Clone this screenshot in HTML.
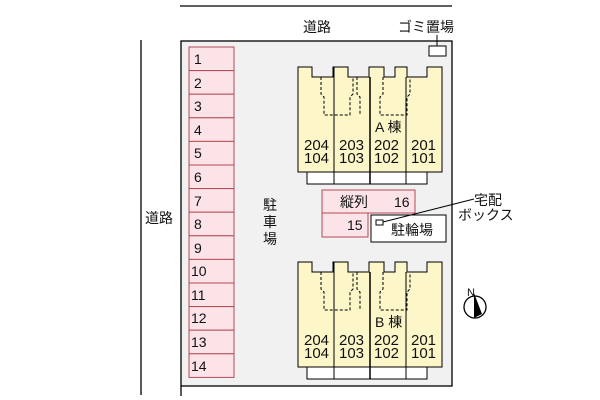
<!DOCTYPE html><html><head><meta charset="utf-8"><style>body{margin:0;background:#fff}svg{display:block}text{font-family:"Liberation Sans","Noto Sans CJK JP",sans-serif;fill:#111}</style></head><body>
<svg width="600" height="400" viewBox="0 0 600 400">
<line x1="180" y1="6" x2="452" y2="6" stroke="#000" stroke-width="1.3"/>
<line x1="141" y1="40" x2="141" y2="395" stroke="#000" stroke-width="1.3"/>
<rect x="181" y="41" width="271" height="345" fill="#f1f1f1" stroke="#000" stroke-width="1.3"/>
<line x1="181" y1="386" x2="181" y2="396" stroke="#000" stroke-width="1.3"/>
<text x="303" y="32" font-size="14">道路</text>
<text x="145" y="223" font-size="14">道路</text>
<text x="398" y="32" font-size="14">ゴミ置場</text>
<line x1="437" y1="35" x2="437" y2="46" stroke="#000"/>
<rect x="429" y="46" width="17" height="10" fill="#fff" stroke="#000"/>
<g font-size="14">
<g fill="#fbe3e8" stroke="#b54a55">
<rect x="189" y="47" width="45" height="23.6"/><rect x="189" y="70.6" width="45" height="23.6"/><rect x="189" y="94.2" width="45" height="23.6"/><rect x="189" y="117.8" width="45" height="23.6"/><rect x="189" y="141.4" width="45" height="23.6"/><rect x="189" y="165" width="45" height="23.6"/><rect x="189" y="188.6" width="45" height="23.6"/><rect x="189" y="212.2" width="45" height="23.6"/><rect x="189" y="235.8" width="45" height="23.6"/><rect x="189" y="259.4" width="45" height="23.6"/><rect x="189" y="283" width="45" height="23.6"/><rect x="189" y="306.6" width="45" height="23.6"/><rect x="189" y="330.2" width="45" height="23.6"/><rect x="189" y="353.8" width="45" height="23.6"/>
</g>
<text x="194" y="64">1</text><text x="194" y="88">2</text><text x="194" y="111">3</text><text x="194" y="135">4</text><text x="194" y="158">5</text><text x="194" y="182">6</text><text x="194" y="206">7</text><text x="194" y="229">8</text><text x="194" y="253">9</text><text x="191" y="276">10</text><text x="191" y="300">11</text><text x="191" y="323">12</text><text x="191" y="347">13</text><text x="191" y="371">14</text>
</g>
<text x="263" y="210" font-size="14">駐</text><text x="263" y="227" font-size="14">車</text><text x="263" y="244" font-size="14">場</text>
<defs><g id="bld">
<rect x="307" y="105" width="120" height="12" fill="#fff" stroke="#000"/>
<line x1="334" y1="105" x2="334" y2="117" stroke="#000"/><line x1="370" y1="105" x2="370" y2="117" stroke="#000" stroke-width="1.5"/><line x1="406" y1="105" x2="406" y2="117" stroke="#000"/>
<polygon points="298,0 312,0 312,10 333,10 333,0 348,0 348,10 369,10 369,0 384,0 384,10 395,10 395,0 407,0 407,10 427,10 427,0 442,0 442,105 298,105" fill="#fcf6c8" stroke="#000"/>
<line x1="334" y1="0" x2="334" y2="105" stroke="#000"/><line x1="370" y1="10" x2="370" y2="105" stroke="#000" stroke-width="1.5"/><line x1="406" y1="10" x2="406" y2="105" stroke="#000"/>
<g stroke="#000" stroke-dasharray="3,2" fill="none"><path d="M321 10v17l3 3v18h26v-18l3-3v-17"/><path d="M357 10v17l3 3v18"/><path d="M383 10v17l-3 3v18h27v-18l3-3v-17"/></g>
<g font-size="15"><text x="304" y="83">204</text><text x="304" y="96">104</text><text x="339" y="83">203</text><text x="339" y="96">103</text><text x="374" y="83">202</text><text x="374" y="96">102</text><text x="411" y="83">201</text><text x="411" y="96">101</text></g>
</g></defs>
<use href="#bld" y="67"/>
<use href="#bld" y="262"/>
<text x="375" y="132" font-size="14">A 棟</text>
<text x="375" y="327" font-size="14">B 棟</text>
<rect x="322" y="190" width="93" height="23" fill="#fbe3e8" stroke="#b54a55"/>
<rect x="322" y="213" width="46" height="24" fill="#fbe3e8" stroke="#b54a55"/>
<text x="340" y="207" font-size="14">縦列</text><text x="394" y="207" font-size="14">16</text>
<text x="347" y="230" font-size="14">15</text>
<rect x="371" y="215" width="75" height="27" fill="#fff" stroke="#000"/>
<rect x="376" y="220" width="7" height="5" fill="#fff" stroke="#000"/>
<text x="391" y="235" font-size="14">駐輪場</text>
<line x1="383" y1="222" x2="474" y2="199" stroke="#000"/>
<text x="474" y="205" font-size="14">宅配</text><text x="458" y="220" font-size="14">ボックス</text>
<circle cx="475" cy="307" r="11" fill="#fff" stroke="#000" stroke-width="1.3"/>
<polygon points="474,293 474,318 482,314" fill="#000"/>
<text x="467" y="296" font-size="11">N</text>
</svg></body></html>
